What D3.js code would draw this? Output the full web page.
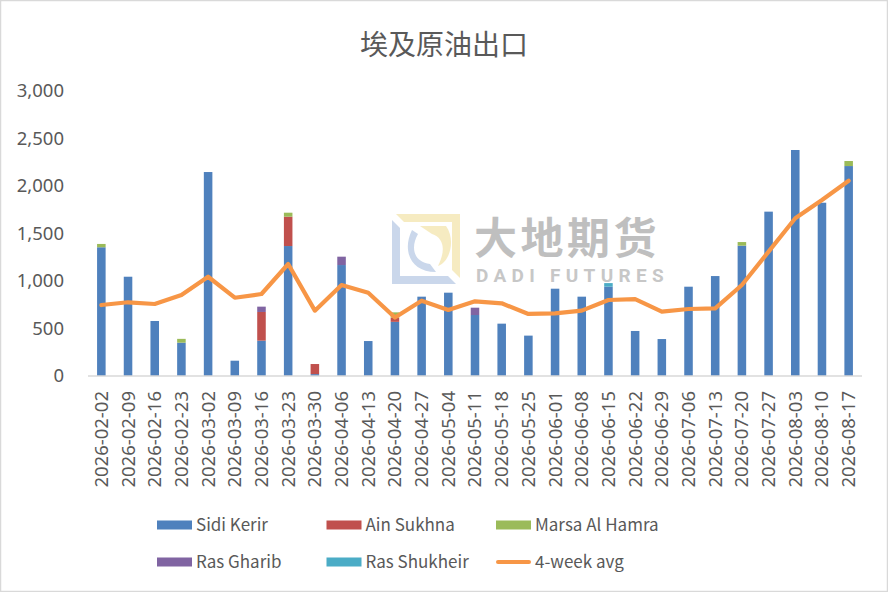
<!DOCTYPE html>
<html>
<head>
<meta charset="utf-8">
<script src="https://cdn.jsdelivr.net/npm/d3@7"></script>
<style>
  body { margin: 0; background: #fff; }
  svg { font-family: "Noto Sans CJK SC", "Noto Sans", sans-serif; }
</style>
</head>
<body>
<svg width="888" height="592"></svg>
<script>
// data
var weeks = ['2026-02-02','2026-02-09','2026-02-16','2026-02-23','2026-03-02','2026-03-09','2026-03-16',
  '2026-03-23','2026-03-30','2026-04-06','2026-04-13','2026-04-20','2026-04-27','2026-05-04','2026-05-11',
  '2026-05-18','2026-05-25','2026-06-01','2026-06-08','2026-06-15','2026-06-22','2026-06-29','2026-07-06',
  '2026-07-13','2026-07-20','2026-07-27','2026-08-03','2026-08-10','2026-08-17'];
var sidiKerir   = [1355,1045,579,351,2147,161,372,1368,20,1168,368,570,835,877,642,551,425,919,835,940,474,389,940,1052,1372,1730,2379,1824,2210];
var ainSukhna   = [0,0,0,0,0,0,302,309,106,0,0,45,0,0,0,0,0,0,0,0,0,0,0,0,0,0,0,0,0];
var marsaAlHamra= [35,0,0,40,0,0,0,42,0,0,0,55,0,0,0,0,0,0,0,0,0,0,0,0,38,0,0,0,53];
var rasGharib   = [0,0,0,0,0,0,56,0,0,88,0,0,0,0,77,0,0,0,0,0,0,0,0,0,0,0,0,0,0];
var rasShukheir = [0,0,0,0,0,0,0,0,0,0,0,0,0,0,0,0,0,0,0,38,0,0,0,0,0,0,0,0,0];
var avg4w       = [747,776,758,853,1045,824,863,1179,688,958,877,615,793,695,786,765,653,660,688,800,810,677,705,712,958,1309,1660,1853,2056];
var yTicks = [0,500,1000,1500,2000,2500,3000];

var seriesNames = ['Sidi Kerir','Ain Sukhna','Marsa Al Hamra','Ras Gharib','Ras Shukheir'];
var seriesVals = [sidiKerir, ainSukhna, marsaAlHamra, rasGharib, rasShukheir];
var colors = ['#4f81bd','#c0504d','#9bbb59','#8064a2','#4bacc6'];
var lineColor = '#f79646';
var textColor = '#595959';
var numFont = '"Noto Sans", sans-serif';

var svg = d3.select('svg');

// border
svg.append('rect').attr('x', 0.5).attr('y', 0.5).attr('width', 887).attr('height', 591)
  .attr('fill', '#fff').attr('stroke', '#d9d9d9').attr('stroke-width', 1.5);

// title
svg.append('text').attr('x', 444).attr('y', 55).attr('text-anchor', 'middle')
  .attr('font-size', 28).attr('fill', textColor).text('埃及原油出口');

var x = d3.scaleBand().domain(weeks).range([88, 862]).paddingInner(0.68).paddingOuter(0.34);
var y = d3.scaleLinear().domain([0, 3000]).range([376, 91]);

// watermark
var wm = svg.append('g').attr('opacity', 0.55);
wm.append('path').attr('d', 'M392,220 L392,284 L456,284 L448,276 L400,276 L400,228 Z').attr('fill', '#9fb8dc');
wm.append('path').attr('d', 'M396,214 L460,214 L460,278 L452,270 L452,222 L404,222 Z').attr('fill', '#f0dc90');
wm.append('path').attr('d', 'M412,230 C402,250 410,272 436,272 L430,264 C414,262 410,248 418,234 Z').attr('fill', '#9fb8dc');
wm.append('path').attr('d', 'M420,226 L446,226 C456,240 450,262 438,266 C446,250 444,238 432,234 Z').attr('fill', '#f0dc90');
wm.append('text').attr('x', 474).attr('y', 254).attr('font-size', 43).attr('font-weight', 'bold')
  .attr('fill', '#8c8c8c').attr('letter-spacing', 3.5).text('大地期货');
wm.append('text').attr('x', 476).attr('y', 282).attr('font-size', 19).attr('font-weight', 'bold')
  .attr('fill', '#9a9a9a').attr('letter-spacing', 5.3).attr('font-family', 'Roboto, sans-serif').text('DADI FUTURES');

// stacked bars
var rows = weeks.map(function(w, i) {
  var r = { week: w };
  seriesNames.forEach(function(n, k) { r[n] = seriesVals[k][i]; });
  return r;
});
var stacked = d3.stack().keys(seriesNames)(rows);

svg.append('g').selectAll('g').data(stacked).enter().append('g')
  .attr('fill', function(d, k) { return colors[k]; })
  .selectAll('rect').data(function(d) { return d; }).enter().append('rect')
  .attr('x', function(d) { return x(d.data.week); })
  .attr('width', x.bandwidth())
  .attr('y', function(d) { return y(d[1]); })
  .attr('height', function(d) { return y(d[0]) - y(d[1]); });

// axis line
svg.append('line').attr('x1', 88).attr('x2', 862).attr('y1', y(0)).attr('y2', y(0))
  .attr('stroke', '#d9d9d9').attr('stroke-width', 1.5);

// y labels
var yAxis = svg.append('g').attr('transform', 'translate(64,0)')
  .call(d3.axisLeft(y).tickValues(yTicks).tickFormat(d3.format(',')).tickSize(0).tickPadding(0));
yAxis.select('.domain').remove();
yAxis.selectAll('text').attr('font-size', 18.5).attr('fill', textColor)
  .attr('font-family', numFont);

// x labels
var xAxis = svg.append('g').attr('transform', 'translate(0,' + y(0) + ')')
  .call(d3.axisBottom(x).tickSize(0));
xAxis.select('.domain').remove();
xAxis.selectAll('text')
  .attr('font-size', 18.5).attr('fill', textColor)
  .attr('font-family', numFont)
  .attr('text-anchor', 'end')
  .attr('transform', 'rotate(-90)')
  .attr('x', -15).attr('y', 0).attr('dy', '0.35em');

// 4-week avg line
var line = d3.line()
  .x(function(d, i) { return x(weeks[i]) + x.bandwidth() / 2; })
  .y(function(d) { return y(d); });
svg.append('path').datum(avg4w).attr('d', line)
  .attr('fill', 'none').attr('stroke', lineColor).attr('stroke-width', 4.2)
  .attr('stroke-linejoin', 'round').attr('stroke-linecap', 'round');

// legend
var legendItems = seriesNames.map(function(n, k) { return { name: n, color: colors[k], type: 'bar' }; });
legendItems.push({ name: '4-week avg', color: lineColor, type: 'line' });
var legend = svg.append('g');
legendItems.forEach(function(it, i) {
  var lx = 157 + (i % 3) * 169.5;
  var ly = 525 + Math.floor(i / 3) * 37;
  if (it.type === 'bar') {
    legend.append('rect').attr('x', lx).attr('y', ly - 4.5).attr('width', 35).attr('height', 9).attr('fill', it.color);
  } else {
    legend.append('line').attr('x1', lx + 2).attr('x2', lx + 33).attr('y1', ly).attr('y2', ly)
      .attr('stroke', it.color).attr('stroke-width', 4).attr('stroke-linecap', 'round');
  }
  legend.append('text').attr('x', lx + 39).attr('y', ly).attr('dy', '0.36em')
    .attr('font-size', 17).attr('fill', textColor).text(it.name);
});
</script>
</body>
</html>
